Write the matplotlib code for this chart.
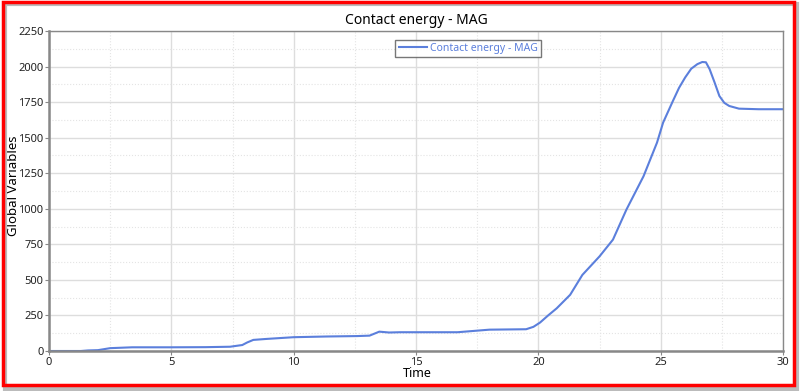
import matplotlib.pyplot as plt
from matplotlib.patches import Rectangle
from matplotlib.ticker import MultipleLocator

plt.rcParams['font.family'] = ['Noto Sans', 'DejaVu Sans']

# curve
time = [0, 1.3, 1.6, 2.0, 2.5, 3.4, 5.0, 6.4, 7.4, 7.9, 8.1, 8.35, 8.9, 10.0,
        11.35, 12.6, 13.1, 13.3, 13.5, 13.9, 14.35, 16.7, 18.0, 19.5, 19.8,
        20.07, 20.4, 20.75, 21.3, 21.8, 22.5, 23.05, 23.6, 24.3, 24.85, 25.1,
        25.5, 25.75, 26.0, 26.25, 26.5, 26.7, 26.85, 27.0, 27.2, 27.4, 27.6,
        27.8, 28.2, 29.0, 30.0]
energy = [0, 0, 4, 6, 20, 26, 26, 27, 30, 42, 60, 78, 85, 97,
          102, 105, 108, 122, 136, 130, 132, 132, 150, 153, 170,
          200, 250, 300, 395, 535, 665, 783, 994, 1229, 1465, 1606,
          1758, 1850, 1923, 1985, 2017, 2032, 2030, 1982, 1890, 1793, 1745,
          1723, 1704, 1700, 1700]

series_label = 'Contact energy - MAG'
line_color = '#5b7fdc'

fig = plt.figure(figsize=(8, 3.91), dpi=100)
ax = fig.add_axes([49 / 800, 1 - 351 / 391, 734 / 800, 320 / 391])

ax.plot(time, energy, color=line_color, lw=1.5, label=series_label)

ax.set_xlim(0, 30)
ax.set_ylim(0, 2250)
ax.xaxis.set_major_locator(MultipleLocator(5))
ax.xaxis.set_minor_locator(MultipleLocator(2.5))
ax.yaxis.set_major_locator(MultipleLocator(250))
ax.yaxis.set_minor_locator(MultipleLocator(125))

ax.grid(which='major', color='#dddddd', lw=1)
ax.grid(which='minor', color='#e4e4e4', lw=0.8, ls=':')
ax.set_axisbelow(True)

ax.tick_params(which='major', length=3, color='#888888', labelsize=8,
               pad=1, labelcolor='#222222')
ax.tick_params(which='minor', length=0)

for side in ['left', 'bottom']:
    ax.spines[side].set_color('#888888')
    ax.spines[side].set_linewidth(1.8)
for side in ['top', 'right']:
    ax.spines[side].set_color('#888888')
    ax.spines[side].set_linewidth(1.0)

ax.set_title('Contact energy - MAG', fontsize=10, pad=5)
ax.set_xlabel('Time', fontsize=9)
ax.xaxis.label.set_horizontalalignment('left')
ax.xaxis.set_label_coords(354 / 734, -0.05)
ax.set_ylabel('Global Variables', fontsize=9.5)
ax.yaxis.set_label_coords(-0.04, 0.515)

leg = ax.legend(loc='upper center', bbox_to_anchor=(0.571, 0.972),
                fontsize=7.5, frameon=True, fancybox=False, handlelength=2.7,
                handletextpad=0.3, borderpad=0.3, borderaxespad=0)
leg.get_frame().set_edgecolor('#555555')
leg.get_frame().set_linewidth(1.0)
for t in leg.get_texts():
    t.set_color(line_color)

# red frame with a soft shadow
fig.patches.append(Rectangle((5 / 800, 1 - 389 / 391), 792 / 800, 385 / 391,
                             transform=fig.transFigure, fill=False,
                             edgecolor='#bbbbbb', lw=3, zorder=0))
fig.patches.append(Rectangle((2.5 / 800, 1 - 385 / 391), 791 / 800, 383 / 391,
                             transform=fig.transFigure, fill=False,
                             edgecolor='#ff0000', lw=2.5, zorder=1))

fig.savefig('out.png', dpi=100)
